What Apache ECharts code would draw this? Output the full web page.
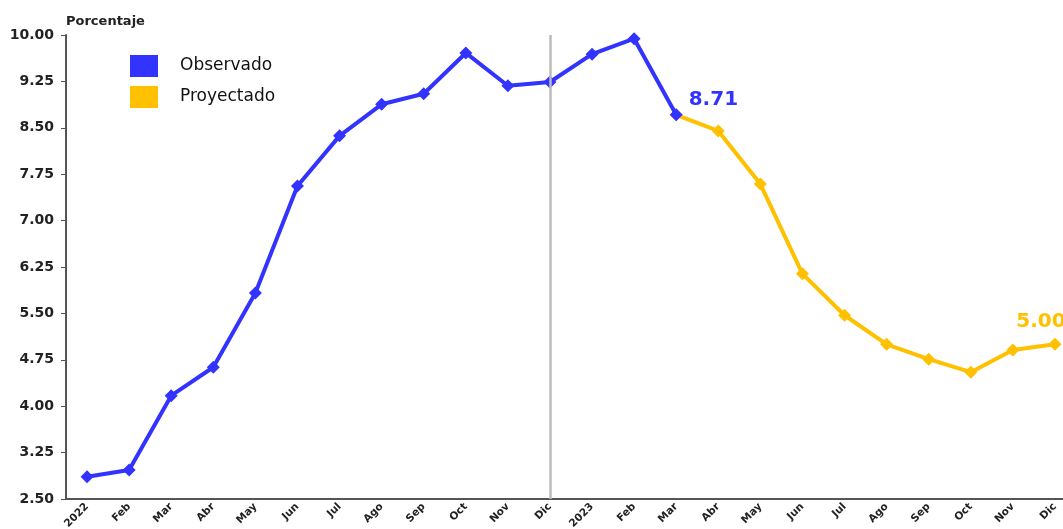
<!DOCTYPE html>
<html><head><meta charset="utf-8">
<script src="https://cdn.jsdelivr.net/npm/echarts@6/dist/echarts.min.js"></script>
<style>html,body{margin:0;padding:0;background:#fff}#c{width:1063px;height:529px}</style>
</head><body><div id="c"></div>
<script>
const categories = ['2022','Feb','Mar','Abr','May','Jun','Jul','Ago','Sep','Oct','Nov','Dic',
                    '2023','Feb','Mar','Abr','May','Jun','Jul','Ago','Sep','Oct','Nov','Dic'];
const observado = [2.86,2.97,4.17,4.63,5.83,7.56,8.37,8.88,9.05,9.71,9.18,9.24,
                   9.69,9.94,8.71,null,null,null,null,null,null,null,null,null];
const proyectado = [null,null,null,null,null,null,null,null,null,null,null,null,
                    null,null,8.71,8.45,7.59,6.14,5.47,5.00,4.76,4.55,4.91,5.00];
const yTicks = [2.50,3.25,4.00,4.75,5.50,6.25,7.00,7.75,8.50,9.25,10.00];
const dividerIndex = 11;
const labelObs = 14;
const labelProy = 23;

const FONT = '"DejaVu Sans", "Liberation Sans", Arial, sans-serif';
const BLUE = '#3333ff', GOLD = '#ffc000';
const chart = echarts.init(document.getElementById('c'));
chart.setOption({
  backgroundColor: '#fff',
  animation: false,
  grid: {left: 66, top: 35, height: 464, width: 1010, containLabel: false, outerBoundsMode: 'none'},
  legend: {
    orient: 'vertical', left: 125, top: 50, itemWidth: 28, itemHeight: 22, itemGap: 9,
    icon: 'rect',
    textStyle: {fontFamily: FONT, fontSize: 17, color: '#111', padding: [0, 0, 0, 17]},
    data: ['Observado', 'Proyectado']
  },
  xAxis: {
    type: 'category', data: categories, boundaryGap: true,
    axisLine: {lineStyle: {color: '#555', width: 2}},
    axisTick: {show: false},
    axisLabel: {rotate: 45, fontFamily: FONT, fontWeight: 'bold', fontSize: 10.5, color: '#222', margin: 6, interval: 0}
  },
  yAxis: {
    type: 'value', min: 2.5, max: 10,
    name: 'Porcentaje', nameLocation: 'end', nameGap: 7,
    nameTextStyle: {fontFamily: FONT, fontWeight: 'bold', fontSize: 13, color: '#222', align: 'left', padding: [0,0,0,0]},
    axisLine: {show: true, lineStyle: {color: '#555', width: 2}},
    axisTick: {show: true, length: 5, customValues: yTicks, lineStyle: {color: '#555'}},
    splitLine: {show: false},
    axisLabel: {customValues: yTicks, fontFamily: FONT, fontWeight: 'bold', fontSize: 14, color: '#222', margin: 12,
      formatter: v => v.toFixed(2)}
  },
  series: [
    {
      name: 'Observado', type: 'line', data: observado, color: BLUE,
      lineStyle: {width: 4, color: BLUE}, symbol: 'diamond', symbolSize: 13,
      itemStyle: {color: BLUE},
      label: {show: true, fontFamily: FONT, fontWeight: 'bold', fontSize: 20, color: BLUE,
        position: 'right', distance: 6, offset: [0, -15],
        formatter: p => p.dataIndex === labelObs ? p.value.toFixed(2) : ''},
      markLine: {silent: true, symbol: 'none', label: {show: false},
        lineStyle: {color: '#bbbbbb', width: 2.5, type: 'solid'},
        data: [{xAxis: dividerIndex}]},
      z: 3
    },
    {
      name: 'Proyectado', type: 'line', data: proyectado, color: GOLD,
      lineStyle: {width: 4, color: GOLD}, symbol: 'diamond', symbolSize: 13,
      itemStyle: {color: GOLD},
      label: {show: true, fontFamily: FONT, fontWeight: 'bold', fontSize: 20, color: GOLD,
        position: 'top', distance: 6, offset: [-14, 0],
        formatter: p => p.dataIndex === labelProy ? p.value.toFixed(2) : ''},
      z: 2
    }
  ]
});
</script></body></html>
